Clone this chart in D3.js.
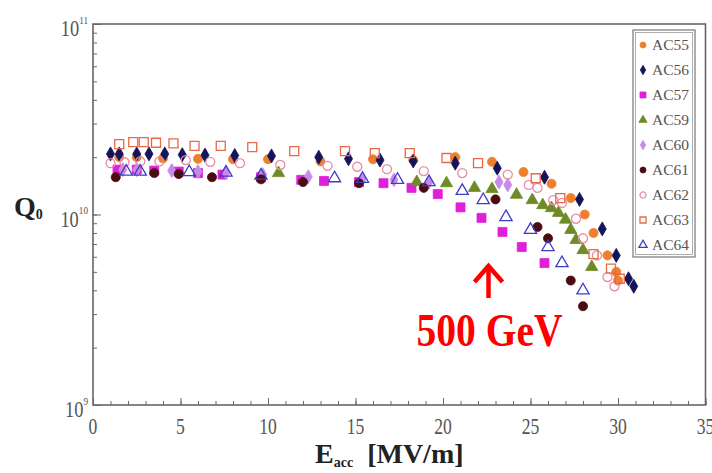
<!DOCTYPE html>
<html><head><meta charset="utf-8">
<script src="https://cdn.jsdelivr.net/npm/d3@7"></script>
<style>body{margin:0;background:#fff}svg{display:block}</style>
</head><body>
<svg id="c" width="712" height="473"></svg>
<script>
// ---- data (E_acc [MV/m], Q0 in units of 1e10) ----
const seriesNames = ["AC55","AC56","AC57","AC59","AC60","AC61","AC62","AC63","AC64"];
const AC55_E = [1.5,2.5,4.0,6.0,8.0,10.0,13.0,16.0,18.3,20.7,22.8,24.6,26.2,27.3,28.1,28.6,29.4,29.9,30.0];
const AC55_Q = [2.00,2.00,1.97,1.96,1.95,1.95,1.90,1.95,1.93,2.00,1.89,1.67,1.45,1.22,1.00,0.80,0.61,0.50,0.45];
const AC56_E = [1.0,1.5,2.5,3.2,4.1,5.1,6.4,8.1,10.2,12.9,14.6,16.4,18.3,20.7,23.1,25.8,27.8,29.1,29.9,30.6,30.9];
const AC56_Q = [2.08,2.08,2.08,2.08,2.08,2.06,2.05,2.04,2.03,2.00,1.96,1.93,1.91,1.86,1.75,1.57,1.20,0.84,0.61,0.46,0.42];
const AC57_E = [1.4,2.5,3.5,4.9,6.0,7.4,9.6,11.9,13.2,15.2,16.6,18.2,19.7,21.0,22.2,23.4,24.5,25.8];
const AC57_Q = [1.72,1.72,1.70,1.68,1.65,1.62,1.57,1.52,1.50,1.48,1.46,1.38,1.28,1.09,0.96,0.81,0.675,0.556];
const AC59_E = [10.6,18.5,20.2,21.8,22.8,24.2,25.1,25.7,26.2,26.6,27.0,27.3,27.6,28.0,28.5];
const AC59_Q = [1.65,1.48,1.46,1.38,1.36,1.27,1.19,1.12,1.08,1.02,0.94,0.83,0.735,0.65,0.53];
const AC60_E = [1.7,2.5,4.5,6.0,7.6,9.7,12.3,15.4,17.2,19.2,23.2,23.7];
const AC60_Q = [1.72,1.72,1.70,1.68,1.66,1.62,1.58,1.54,1.52,1.48,1.48,1.43];
const AC61_E = [1.3,3.5,4.9,6.8,9.6,12.0,15.2,18.9,23.0,25.4,26.0,27.3,28.0];
const AC61_Q = [1.57,1.65,1.63,1.57,1.53,1.48,1.46,1.38,1.20,0.86,0.75,0.45,0.33];
const AC62_E = [1.0,1.8,2.7,3.8,5.3,6.7,8.4,10.7,13.4,15.1,16.8,18.9,21.1,23.7,24.9,25.4,26.3,26.8,27.6,28.0,28.8,29.4,29.8];
const AC62_Q = [1.86,1.88,1.90,1.90,1.93,1.89,1.86,1.82,1.80,1.78,1.73,1.69,1.65,1.62,1.43,1.38,1.19,1.15,0.95,0.75,0.61,0.47,0.42];
const AC63_E = [1.5,2.3,2.9,3.6,4.6,5.8,7.3,9.1,11.5,14.4,16.1,18.1,20.2,22.0,25.3,26.7,28.6,29.6,30.1];
const AC63_Q = [2.34,2.40,2.40,2.38,2.36,2.29,2.29,2.26,2.15,2.15,2.10,2.10,1.98,1.86,1.55,1.22,0.62,0.52,0.46];
const AC64_E = [1.9,2.7,5.5,7.6,9.6,13.8,15.4,17.4,19.2,21.1,22.3,23.6,25.0,26.0,26.8,28.0];
const AC64_Q = [1.68,1.68,1.67,1.66,1.60,1.55,1.54,1.52,1.48,1.33,1.19,0.97,0.83,0.675,0.556,0.40];
const xTicks = [0,5,10,15,20,25,30,35];
const yTickExp = [9,10,11];

const colors = {AC55:"#ee7f2d",AC56:"#14145a",AC57:"#e020d8",AC59:"#6f8a26",AC60:"#c88ae8",AC61:"#4a0c12",AC62:"#e98ca4",AC63:"#e86848",AC64:"#3c3cc8"};
const shapes = {AC55:"circle",AC56:"diamond",AC57:"square",AC59:"triangle",AC60:"diamond",AC61:"circle",AC62:"ocircle",AC63:"osquare",AC64:"otriangle"};
const dataMap = {AC55:[AC55_E,AC55_Q],AC56:[AC56_E,AC56_Q],AC57:[AC57_E,AC57_Q],AC59:[AC59_E,AC59_Q],AC60:[AC60_E,AC60_Q],AC61:[AC61_E,AC61_Q],AC62:[AC62_E,AC62_Q],AC63:[AC63_E,AC63_Q],AC64:[AC64_E,AC64_Q]};

const svg = d3.select("#c");
const x = d3.scaleLinear().domain([0,35]).range([93,705.5]);
const y = d3.scaleLog().domain([1e9,1e11]).range([405,24]);
const axisCol = "#666";
const serif = "Liberation Serif, serif";

// frame
svg.append("rect").attr("x",x(0)).attr("y",y(1e11)).attr("width",x(35)-x(0)).attr("height",y(1e9)-y(1e11))
  .attr("fill","none").attr("stroke",axisCol).attr("stroke-width",1.6);

// x minor/major ticks (inward)
const gx = svg.append("g").attr("transform",`translate(0,${y(1e9)})`);
gx.call(d3.axisBottom(x).tickValues(d3.range(0,36,1)).tickSize(-4).tickFormat(""));
gx.select(".domain").remove();
gx.selectAll("line").attr("stroke",axisCol);
const gx2 = svg.append("g").attr("transform",`translate(0,${y(1e9)})`);
gx2.call(d3.axisBottom(x).tickValues(xTicks).tickSize(-7).tickFormat(""));
gx2.select(".domain").remove(); gx2.selectAll("line").attr("stroke",axisCol);
svg.append("g").selectAll("text").data(xTicks).join("text")
  .attr("transform",d=>`translate(${x(d)},434) scale(0.88,1.12)`).attr("text-anchor","middle")
  .attr("font-family",serif).attr("font-size",20).attr("fill","#555").text(d=>d);

// y ticks
const minors = [];
[9,10].forEach(e=>{for(let m=1;m<10;m++) minors.push(m*Math.pow(10,e));});
minors.push(1e11);
const gy = svg.append("g").attr("transform",`translate(${x(0)},0)`);
gy.call(d3.axisLeft(y).tickValues(minors).tickSize(-4).tickFormat(""));
gy.select(".domain").remove(); gy.selectAll("line").attr("stroke",axisCol);
const gy2 = svg.append("g").attr("transform",`translate(${x(0)},0)`);
gy2.call(d3.axisLeft(y).tickValues(yTickExp.map(e=>Math.pow(10,e))).tickSize(-8).tickFormat(""));
gy2.select(".domain").remove(); gy2.selectAll("line").attr("stroke",axisCol);
const yl = svg.append("g").selectAll("text").data(yTickExp).join("text")
  .attr("transform",e=>`translate(88,${y(Math.pow(10,e))+12}) scale(0.92,1.12)`).attr("text-anchor","end")
  .attr("font-family",serif).attr("font-size",20).attr("fill","#555");
yl.append("tspan").text("10");
yl.append("tspan").attr("dy",-11).attr("font-size",10).text(e=>e);

// axis titles
const qt = svg.append("text").attr("x",14).attr("y",216).attr("font-family",serif)
  .attr("font-weight","bold").attr("font-size",28).attr("fill","#222");
qt.append("tspan").text("Q");
qt.append("tspan").attr("font-size",14).attr("dy",3).text("0");
const et = svg.append("text").attr("x",315).attr("y",463).attr("font-family",serif)
  .attr("font-weight","bold").attr("font-size",28).attr("fill","#222");
et.append("tspan").text("E");
et.append("tspan").attr("font-size",14).attr("dy",4).text("acc");
et.append("tspan").attr("dy",-4).text("\u00a0\u00a0[MV/m]");

// symbols
function drawMarker(g, shape, color, size){
  const filled = !shape.startsWith("o");
  const base = filled ? shape : shape.slice(1);
  const sym = {circle:d3.symbolCircle,square:d3.symbolSquare,triangle:d3.symbolTriangle,diamond:d3.symbolDiamond}[base];
  const area = {circle:size*size*0.8,square:size*size,triangle:size*size*0.8,diamond:size*size*0.7}[base];
  g.append("path").attr("d",d3.symbol().type(sym).size(area)())
    .attr("fill",filled?color:"none").attr("stroke",color).attr("stroke-width",filled?0.8:1.3);
}
const plot = svg.append("g");
seriesNames.forEach(name=>{
  const [E,Q] = dataMap[name];
  E.forEach((e,i)=>{
    const g = plot.append("g").attr("transform",`translate(${x(e)},${y(Q[i]*1e10)})`);
    drawMarker(g, shapes[name], colors[name], 9);
  });
});

// legend
const lg = svg.append("g");
lg.append("rect").attr("x",633).attr("y",30).attr("width",62).attr("height",227).attr("fill","#fff").attr("stroke","#777").attr("stroke-width",1.2);
lg.append("rect").attr("x",635.5).attr("y",32.5).attr("width",57).attr("height",222).attr("fill","none").attr("stroke","#999").attr("stroke-width",0.8);
seriesNames.forEach((name,i)=>{
  const yy = 45 + i*25;
  const g = lg.append("g").attr("transform",`translate(643,${yy})`);
  drawMarker(g, shapes[name], colors[name], 6);
  lg.append("text").attr("x",652).attr("y",yy+5).attr("font-family",serif)
    .attr("font-size",15).attr("fill","#555").attr("textLength",37).attr("lengthAdjust","spacingAndGlyphs").text(name);
});

// annotation
const arrX = x(22.6);
svg.append("line").attr("x1",arrX).attr("x2",arrX).attr("y1",298).attr("y2",267).attr("stroke","#ff0000").attr("stroke-width",4.5);
svg.append("path").attr("d",`M${arrX-14},${282} L${arrX},${266} L${arrX+14},${282}`).attr("fill","none").attr("stroke","#ff0000").attr("stroke-width",4.5);
svg.append("text").attr("transform",`translate(${arrX+1},346) scale(0.86,1)`).attr("text-anchor","middle").attr("font-family",serif)
  .attr("font-weight","bold").attr("font-size",46).attr("fill","#ff0000").text("500 GeV");
</script>
</body></html>
